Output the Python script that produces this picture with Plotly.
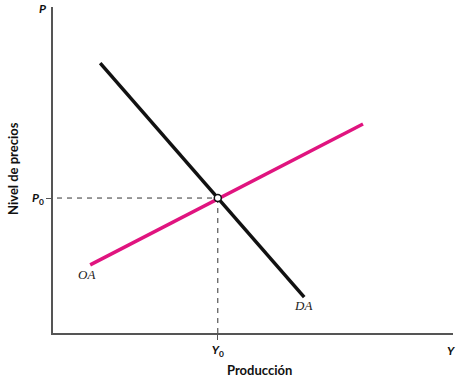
import plotly.graph_objects as go

# Data (arbitrary units on a 0-10 scale)
da_x = [1.18, 6.28]
da_y = [8.28, 1.10]
oa_x = [0.93, 7.75]
oa_y = [2.09, 6.41]
y0 = 4.12
p0 = 4.14

fig = go.Figure()

# dashed guides
fig.add_trace(go.Scatter(x=[-0.15, y0], y=[p0, p0], mode="lines",
                         line=dict(color="#333", width=1, dash="5px,5px"), hoverinfo="skip",
                         cliponaxis=False))
fig.add_trace(go.Scatter(x=[y0, y0], y=[p0, 0], mode="lines",
                         line=dict(color="#333", width=1, dash="5px,5px"), hoverinfo="skip"))
# OA
fig.add_trace(go.Scatter(x=oa_x, y=oa_y, mode="lines",
                         line=dict(color="#E0147F", width=3.5), hoverinfo="skip"))
# DA
fig.add_trace(go.Scatter(x=da_x, y=da_y, mode="lines",
                         line=dict(color="#111111", width=3.5), hoverinfo="skip"))
# equilibrium point
fig.add_trace(go.Scatter(x=[y0], y=[p0], mode="markers",
                         marker=dict(color="white", size=7, line=dict(color="#111", width=1.5)),
                         hoverinfo="skip"))

W, H = 400, 326
L, T = 53, 7


def px(x):
    return (x - L) / W


def py(y):
    return (T + H - y) / H


def label(x, y, text, size=12, **kw):
    d = dict(x=px(x), y=py(y), xref="paper", yref="paper", text=text, showarrow=False,
             xanchor="center", yanchor="middle",
             font=dict(family="Lato", size=size, color="#111"))
    d.update(kw)
    return d


fig.update_layout(
    width=459, height=380,
    margin=dict(l=L, r=459 - L - W, t=T, b=380 - T - H, autoexpand=False),
    plot_bgcolor="white", paper_bgcolor="white",
    showlegend=False,
    xaxis=dict(range=[0, 10], showgrid=False, zeroline=False, showline=True, automargin=False,
               linecolor="#555", linewidth=1.5, mirror=False,
               tickvals=[y0], ticktext=["<i>Y</i><sub>0</sub>"], ticks="outside",
               ticklen=5, tickcolor="#555", tickwidth=1,
               tickfont=dict(family="Lato", size=12, color="#111", weight="bold")),
    yaxis=dict(range=[0, 10], showgrid=False, zeroline=False, showline=True, automargin=False,
               linecolor="#555", linewidth=1.5,
               tickvals=[p0], ticktext=["<i>P</i><sub>0</sub>"], ticks="outside",
               ticklen=5, tickcolor="#555", tickwidth=1,
               tickfont=dict(family="Lato", size=12, color="#111", weight="bold")),
    annotations=[
        label(42, 9, "<b><i>P</i></b>"),
        label(451, 351, "<b><i>Y</i></b>"),
        label(259, 370, "<b>Producción</b>", size=13),
        label(13, 169, "<b>Nivel de precios</b>", size=13, textangle=-90),
        dict(x=0.83, y=1.78, xref="x", yref="y", text="<i>OA</i>", showarrow=False,
             font=dict(family="Liberation Serif", size=13, color="#222")),
        dict(x=6.25, y=0.85, xref="x", yref="y", text="<i>DA</i>", showarrow=False,
             font=dict(family="Liberation Serif", size=13, color="#222")),
    ],
)

fig.write_html("out.html", config={"displayModeBar": False},
               post_script="document.body.style.margin='0';document.body.style.padding='0';")
